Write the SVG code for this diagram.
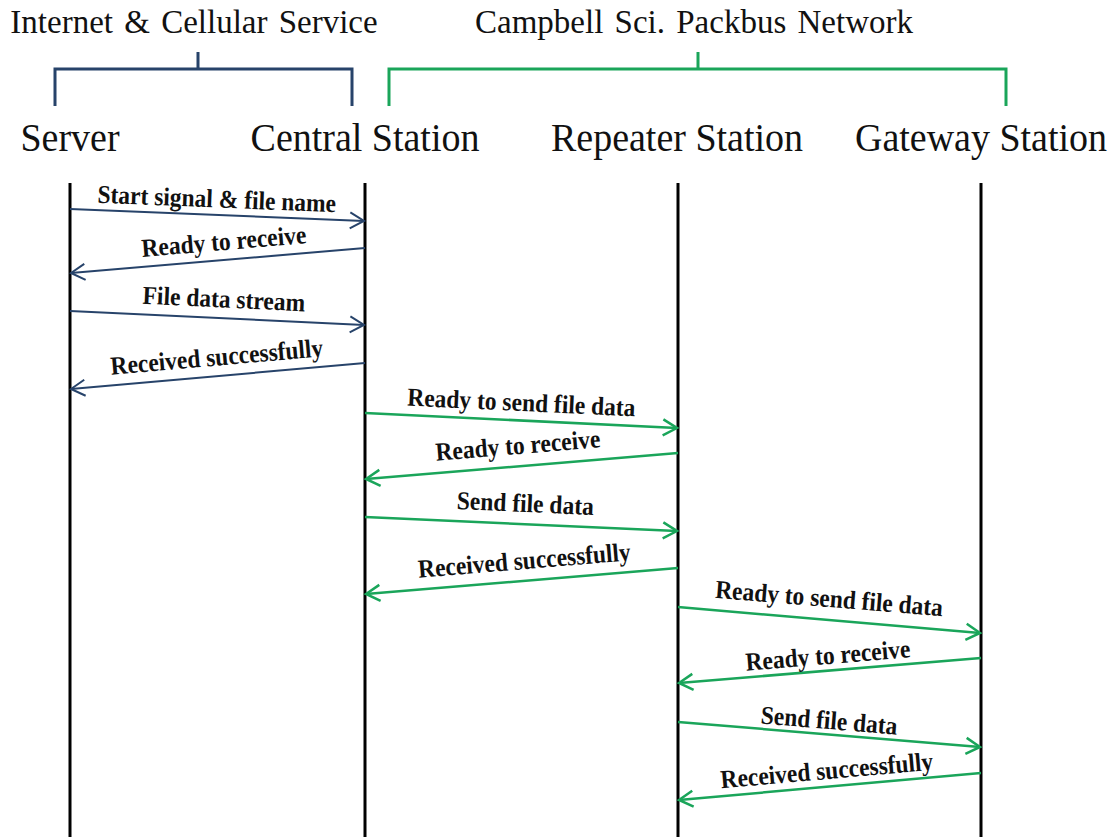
<svg xmlns="http://www.w3.org/2000/svg" width="1117" height="837" viewBox="0 0 1117 837">
<style>
.grp{font-family:"Liberation Serif","Times New Roman",serif;font-size:33px;fill:#111;word-spacing:3px}
.stn{font-family:"Liberation Serif","Times New Roman",serif;font-size:38px;fill:#111;text-anchor:middle}
.lbl{font-family:"Liberation Serif","Times New Roman",serif;font-size:23.5px;font-weight:bold;fill:#111;text-anchor:middle}
.life{stroke:#000;stroke-width:3;fill:none}
.bb{stroke:#27436a;stroke-width:3;fill:none}
.gb{stroke:#1aa55a;stroke-width:3;fill:none}
.ab{stroke:#27436a;stroke-width:2;fill:none;marker-end:url(#mb)}
.ag{stroke:#1aa55a;stroke-width:2.5;fill:none;marker-end:url(#mg)}
</style>
<defs>
<marker id="mb" markerUnits="userSpaceOnUse" markerWidth="20" markerHeight="20" refX="0" refY="0" viewBox="-16 -10 18 20" orient="auto">
<path d="M-14,-8 L0,0 L-14,8" stroke="#27436a" stroke-width="2" fill="none"/>
</marker>
<marker id="mg" markerUnits="userSpaceOnUse" markerWidth="20" markerHeight="20" refX="0" refY="0" viewBox="-16 -10 18 20" orient="auto">
<path d="M-14,-8 L0,0 L-14,8" stroke="#1aa55a" stroke-width="2.5" fill="none"/>
</marker>
</defs>
<rect width="1117" height="837" fill="#fff"/>
<g id="group-internet">
<text class="grp" x="194" y="33" text-anchor="middle">Internet &amp; Cellular Service</text>
<path class="bb" d="M198,52 V69 M55,106 V69 H352 V106"/>
</g>
<g id="group-packbus">
<text class="grp" x="694" y="33" text-anchor="middle">Campbell Sci. Packbus Network</text>
<path class="gb" d="M698,52 V69 M389,106 V69 H1006 V106"/>
</g>
<g id="server">
<text class="stn" transform="translate(70,151) scale(1,1.08)">Server</text>
<line class="life" x1="70" y1="183" x2="70" y2="837"/>
</g>
<g id="central">
<text class="stn" transform="translate(365,151) scale(1,1.08)">Central Station</text>
<line class="life" x1="365" y1="183" x2="365" y2="837"/>
</g>
<g id="repeater">
<text class="stn" transform="translate(677,151) scale(1,1.08)">Repeater Station</text>
<line class="life" x1="678" y1="183" x2="678" y2="837"/>
</g>
<g id="gateway">
<text class="stn" transform="translate(981,151) scale(1,1.08)">Gateway Station</text>
<line class="life" x1="981" y1="183" x2="981" y2="837"/>
</g>
<g id="connectors">
<line class="ab" x1="70" y1="209" x2="364" y2="221"/>
<line class="ab" x1="365" y1="248" x2="71" y2="273"/>
<line class="ab" x1="70" y1="311" x2="364" y2="325"/>
<line class="ab" x1="365" y1="363" x2="71" y2="389"/>
<line class="ag" x1="365" y1="413" x2="677" y2="428"/>
<line class="ag" x1="678" y1="453" x2="366" y2="479"/>
<line class="ag" x1="365" y1="517" x2="677" y2="531"/>
<line class="ag" x1="678" y1="568" x2="366" y2="594"/>
<line class="ag" x1="678" y1="607" x2="980" y2="633"/>
<line class="ag" x1="981" y1="658" x2="679" y2="683"/>
<line class="ag" x1="678" y1="722" x2="980" y2="747"/>
<line class="ag" x1="981" y1="773" x2="679" y2="800"/>
<text class="lbl" transform="translate(216.5,207.5) rotate(2.3) scale(1,1.1)">Start signal &amp; file name</text>
<text class="lbl" transform="translate(224.5,250) rotate(-4.8) scale(1,1.1)">Ready to receive</text>
<text class="lbl" transform="translate(223.5,307.5) rotate(2.7) scale(1,1.1)">File data stream</text>
<text class="lbl" transform="translate(217.5,365.5) rotate(-5) scale(1,1.1)">Received successfully</text>
<text class="lbl" transform="translate(521,411) rotate(2.7) scale(1,1.1)">Ready to send file data</text>
<text class="lbl" transform="translate(518.5,454) rotate(-4.75) scale(1,1.1)">Ready to receive</text>
<text class="lbl" transform="translate(525,512) rotate(2.6) scale(1,1.1)">Send file data</text>
<text class="lbl" transform="translate(525,569) rotate(-4.75) scale(1,1.1)">Received successfully</text>
<text class="lbl" transform="translate(828.5,607) rotate(4.6) scale(1,1.1)">Ready to send file data</text>
<text class="lbl" transform="translate(828.5,664) rotate(-4.7) scale(1,1.1)">Ready to receive</text>
<text class="lbl" transform="translate(828.5,729) rotate(4.7) scale(1,1.1)">Send file data</text>
<text class="lbl" transform="translate(827.5,779) rotate(-5) scale(1,1.1)">Received successfully</text>
</g>
</svg>
